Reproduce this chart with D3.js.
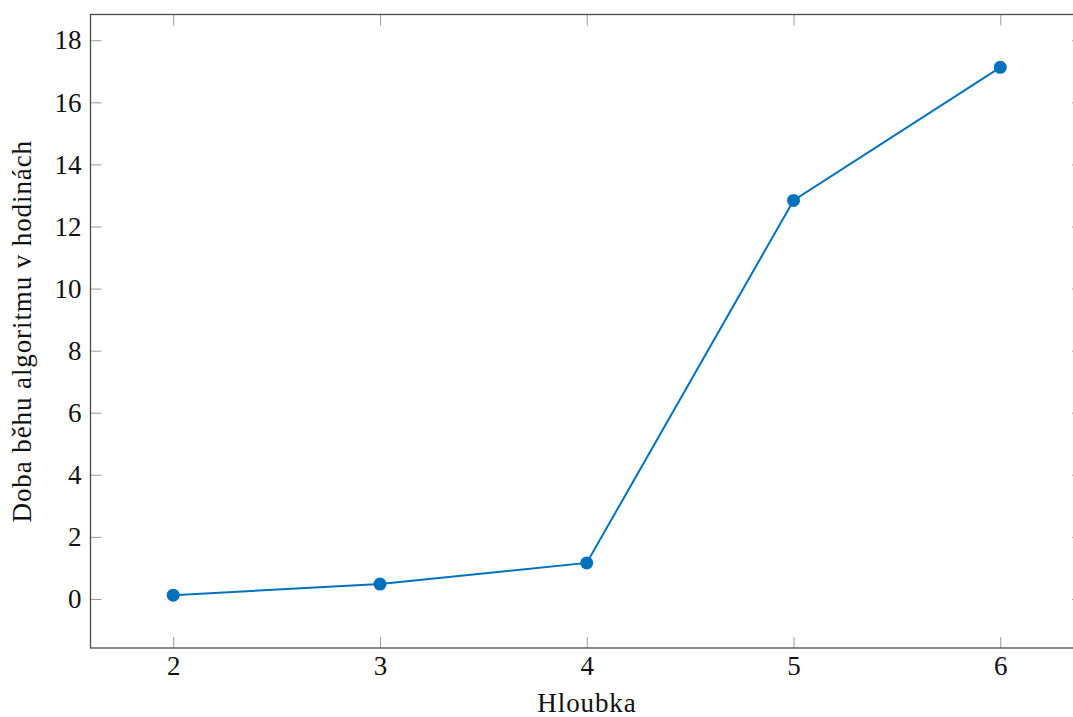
<!DOCTYPE html>
<html>
<head>
<meta charset="utf-8">
<script src="https://cdn.jsdelivr.net/npm/d3@7"></script>
<style>
  body { margin: 0; background: #fff; }
  svg text { font-family: "Liberation Serif", "DejaVu Serif", serif; fill: #111; }
</style>
</head>
<body>
<svg width="1073" height="717"></svg>
<script>
// hloubka vs. doba behu
let depths = [2, 3, 4, 5, 6];
let hours = [0.12, 0.48, 1.16, 12.84, 17.13];
let yTicks = [0, 2, 4, 6, 8, 10, 12, 14, 16, 18];

let svg = d3.select("svg");
let margin = { left: 90.5, top: 14.5, right: -10, bottom: 69 };
let width = +svg.attr("width");
let height = +svg.attr("height");
let x0 = margin.left, x1 = width - margin.right;
let y0 = height - margin.bottom, y1 = margin.top;
let fontSize = 27;

// pgfplots style: enlarge limits by 10%
let xr = d3.max(depths) - d3.min(depths);
let yr = d3.max(hours) - d3.min(hours);
let x = d3.scaleLinear()
    .domain([d3.min(depths) - 0.1 * xr, d3.max(depths) + 0.1 * xr])
    .range([x0, x1]);
let y = d3.scaleLinear()
    .domain([d3.min(hours) - 0.1 * yr, d3.max(hours) + 0.1 * yr])
    .range([y0, y1]);

let tickLen = 11;
let tickColor = "#9a9a9a";

function styleText(g) {
    g.selectAll(".tick text")
        .attr("font-size", fontSize)
        .attr("font-family", "Liberation Serif")
        .attr("fill", "#111");
}

// bottom axis
svg.append("g")
    .attr("transform", "translate(0," + y0 + ")")
    .call(d3.axisBottom(x).tickValues(depths).tickFormat(d3.format("d")).tickSize(-tickLen).tickPadding(8))
    .call(g => g.select(".domain").remove())
    .call(g => g.selectAll(".tick line").attr("stroke", tickColor))
    .call(styleText);

// top mirror ticks
svg.append("g")
    .attr("transform", "translate(0," + y1 + ")")
    .call(d3.axisTop(x).tickValues(depths).tickFormat("").tickSize(-tickLen))
    .call(g => g.select(".domain").remove())
    .call(g => g.selectAll(".tick line").attr("stroke", tickColor));

// left axis
svg.append("g")
    .attr("transform", "translate(" + x0 + ",0)")
    .call(d3.axisLeft(y).tickValues(yTicks).tickSize(-tickLen).tickPadding(9))
    .call(g => g.select(".domain").remove())
    .call(g => g.selectAll(".tick line").attr("stroke", tickColor))
    .call(styleText);

// right mirror ticks
svg.append("g")
    .attr("transform", "translate(" + x1 + ",0)")
    .call(d3.axisRight(y).tickValues(yTicks).tickFormat("").tickSize(-tickLen))
    .call(g => g.select(".domain").remove())
    .call(g => g.selectAll(".tick line").attr("stroke", tickColor));

// frame
svg.append("rect")
    .attr("x", x0).attr("y", y1)
    .attr("width", x1 - x0).attr("height", y0 - y1)
    .attr("fill", "none")
    .attr("stroke", "#4a4a4a")
    .attr("stroke-width", 1.3);

let pts = depths.map((d, i) => [d, hours[i]]);

svg.append("path")
    .datum(pts)
    .attr("fill", "none")
    .attr("stroke", "#0072BD")
    .attr("stroke-width", 2)
    .attr("d", d3.line().x(d => x(d[0])).y(d => y(d[1])));

svg.append("g")
    .selectAll("circle")
    .data(pts)
    .enter()
    .append("circle")
    .attr("cx", d => x(d[0]))
    .attr("cy", d => y(d[1]))
    .attr("r", 6.5)
    .attr("fill", "#0072BD");

// axis labels
svg.append("text")
    .attr("x", 587)
    .attr("y", 711.5)
    .attr("text-anchor", "middle")
    .attr("font-size", fontSize)
    .attr("letter-spacing", 0.9)
    .text("Hloubka");

svg.append("text")
    .attr("transform", "translate(31," + (y0 + y1) / 2 + ") rotate(-90)")
    .attr("text-anchor", "middle")
    .attr("font-size", fontSize)
    .attr("letter-spacing", 0.9)
    .text("Doba běhu algoritmu v hodinách");
</script>
</body>
</html>
